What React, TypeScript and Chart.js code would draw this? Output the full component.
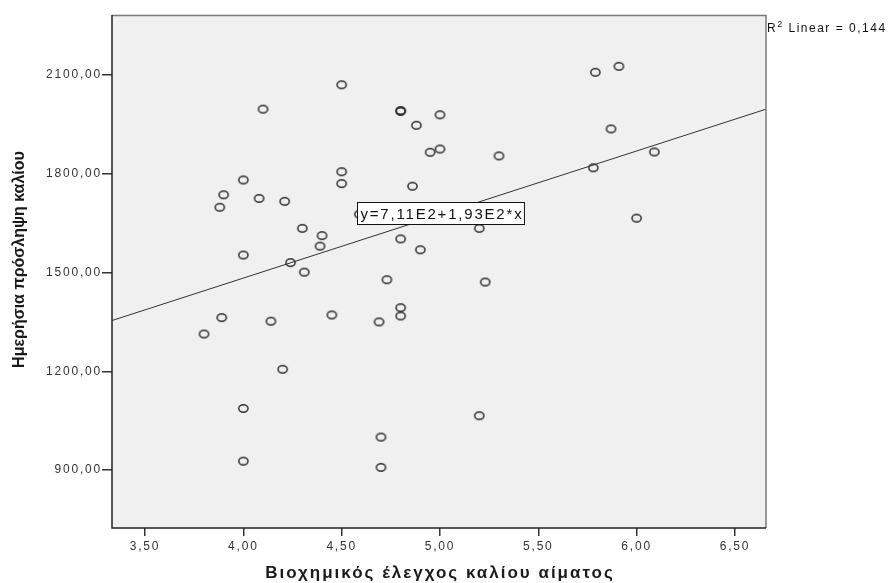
import React, { useEffect, useRef } from 'react';
import { Chart, registerables } from 'chart.js';

Chart.register(...registerables);

// Blood potassium (x) and daily potassium intake (y)
const potassiumBlood = [
  4.50, 4.10, 4.80, 4.80, 4.88, 5.00, 4.95, 5.00, 4.00, 3.90,
  3.88, 4.08, 4.21, 4.50, 4.50, 4.86, 4.59, 4.30, 4.40, 4.39,
  4.80, 4.90, 4.00, 5.30, 5.79, 5.91, 5.87, 5.78, 6.09, 6.00,
  5.20, 4.24, 4.31, 4.73, 3.89, 3.80, 4.14, 4.45, 4.69, 4.80,
  4.80, 4.20, 4.00, 4.70, 4.00, 4.70, 5.23, 5.20,
];
const potassiumIntake = [
  2070, 1996, 1992, 1989, 1947, 1979, 1865, 1875, 1781, 1736,
  1698, 1725, 1716, 1806, 1770, 1762, 1677, 1634, 1612, 1580,
  1602, 1569, 1553, 1854, 2108, 2126, 1936, 1818, 1866, 1665,
  1634, 1530, 1501, 1478, 1363, 1313, 1352, 1371, 1350, 1393,
  1368, 1206, 1087, 1000, 927, 908, 1471, 1065,
];

const xTicks = [3.5, 4.0, 4.5, 5.0, 5.5, 6.0, 6.5];
const yTicks = [900, 1200, 1500, 1800, 2100];
const xRange = [3.332, 6.658];
const yRange = [724, 2282];

// Fit line: y = 7,11E2 + 1,93E2 * x
const intercept = 711;
const slope = 193;
const rSquared = 0.144;

const xTitle = 'Βιοχημικός έλεγχος καλίου αίματος';
const yTitle = 'Ημερήσια πρόσληψη καλίου';
const equationLabel = 'y=7,11E2+1,93E2*x';
const equationAnchor = { x: 4.578, y: 1714 };

const FONT = "'Liberation Sans', Arial, Helvetica, sans-serif";
const fmt = (v: number, d: number) => v.toFixed(d).replace('.', ',');

function makeMarker(): HTMLCanvasElement {
  const c = document.createElement('canvas');
  c.width = 13;
  c.height = 11;
  const g = c.getContext('2d')!;
  g.strokeStyle = '#2e2e2e';
  g.lineWidth = 1.5;
  g.beginPath();
  g.ellipse(6.5, 5.5, 4.6, 3.7, 0, 0, Math.PI * 2);
  g.stroke();
  return c;
}

const decorPlugin = {
  id: 'decor',
  beforeDraw(chart: any) {
    const ctx = chart.ctx as CanvasRenderingContext2D;
    (ctx as any).letterSpacing = '1.8px';
    const { left, top, right, bottom } = chart.chartArea;
    ctx.save();
    ctx.fillStyle = '#ffffff';
    ctx.fillRect(0, 0, chart.width, chart.height);
    ctx.fillStyle = '#f0f0f0';
    ctx.fillRect(left, top, right - left, bottom - top);
    ctx.restore();
  },
  afterDatasetsDraw(chart: any) {
    const ctx = chart.ctx as CanvasRenderingContext2D;
    const { left, top, right, bottom } = chart.chartArea;
    const xs = chart.scales.x;
    const ys = chart.scales.y;
    ctx.save();
    // frame
    ctx.lineWidth = 1.5;
    ctx.strokeStyle = '#7a7a7a';
    ctx.beginPath();
    ctx.moveTo(left, top + 0.5);
    ctx.lineTo(right, top + 0.5);
    ctx.lineTo(right, bottom);
    ctx.stroke();
    ctx.strokeStyle = '#222';
    ctx.beginPath();
    ctx.moveTo(left, top);
    ctx.lineTo(left, bottom);
    ctx.lineTo(right, bottom);
    ctx.stroke();

    // equation label
    (ctx as any).letterSpacing = '1.8px';
    ctx.font = `15px ${FONT}`;
    const w = ctx.measureText(equationLabel).width;
    const bx = Math.round(xs.getPixelForValue(equationAnchor.x)) + 0.5;
    const by = Math.round(ys.getPixelForValue(equationAnchor.y)) + 0.5;
    const bw = w + 4;
    const bh = 22;
    ctx.fillStyle = '#ffffff';
    ctx.fillRect(bx, by, bw, bh);
    ctx.strokeStyle = '#111';
    ctx.lineWidth = 1;
    ctx.strokeRect(bx, by, bw, bh);
    ctx.fillStyle = '#111';
    ctx.textBaseline = 'middle';
    ctx.textAlign = 'left';
    ctx.fillText(equationLabel, bx + 3, by + bh / 2 + 1);

    // R² text
    (ctx as any).letterSpacing = '1.5px';
    const rx = right + 1;
    const ry = top + 17;
    ctx.textBaseline = 'alphabetic';
    ctx.font = `12px ${FONT}`;
    ctx.fillText('R', rx, ry);
    let cx = rx + ctx.measureText('R').width;
    ctx.font = `9px ${FONT}`;
    ctx.fillText('2', cx, ry - 5);
    cx += ctx.measureText('2').width;
    ctx.font = `12px ${FONT}`;
    ctx.fillText(' Linear = ' + fmt(rSquared, 3), cx, ry);

    // axis titles
    ctx.fillStyle = '#1a1a1a';
    ctx.textAlign = 'center';
    ctx.textBaseline = 'middle';
    (ctx as any).letterSpacing = '2px';
    ctx.font = `bold 17px ${FONT}`;
    ctx.fillText(xTitle, (left + right) / 2 + 1, bottom + 45);

    (ctx as any).letterSpacing = '0px';
    ctx.font = `bold 16px ${FONT}`;
    ctx.translate(20, (top + bottom) / 2 - 12);
    ctx.rotate(-Math.PI / 2);
    ctx.fillText(yTitle, 0, 0);
    ctx.restore();
    (ctx as any).letterSpacing = '1.8px';
  },
};

export default function App() {
  const ref = useRef<HTMLCanvasElement | null>(null);

  useEffect(() => {
    if (!ref.current) return;
    const marker = makeMarker();
    const points = potassiumBlood.map((x, i) => ({ x, y: potassiumIntake[i] }));
    const fitLine = xRange.map((x) => ({ x, y: intercept + slope * x }));

    const chart = new Chart(ref.current, {
      type: 'scatter',
      data: {
        datasets: [
          {
            label: 'fit',
            data: fitLine,
            showLine: true,
            borderColor: '#333',
            borderWidth: 1,
            pointRadius: 0,
            fill: false,
          } as any,
          {
            label: 'data',
            data: points,
            pointStyle: marker as any,
            pointRadius: 5,
            borderColor: '#2e2e2e',
            backgroundColor: 'rgba(0,0,0,0)',
          },
        ],
      },
      options: {
        responsive: false,
        animation: false,
        layout: { padding: { left: 0, top: 15, right: 125, bottom: 0 } },
        plugins: {
          legend: { display: false },
          tooltip: { enabled: false },
        },
        scales: {
          x: {
            type: 'linear',
            min: xRange[0],
            max: xRange[1],
            afterBuildTicks: (s: any) => {
              s.ticks = xTicks.map((v) => ({ value: v }));
            },
            afterFit: (s: any) => {
              s.height = 55;
            },
            ticks: {
              callback: (v: any) => fmt(Number(v), 2),
              font: { family: FONT, size: 12 },
              color: '#333',
              padding: 3,
              maxRotation: 0,
              autoSkip: false,
            },
            grid: {
              display: true,
              drawOnChartArea: false,
              drawTicks: true,
              tickLength: 8,
              color: '#333',
              lineWidth: 1.5,
            },
            border: { display: false },
            title: { display: false },
          },
          y: {
            type: 'linear',
            min: yRange[0],
            max: yRange[1],
            afterBuildTicks: (s: any) => {
              s.ticks = yTicks.map((v) => ({ value: v }));
            },
            afterFit: (s: any) => {
              s.width = 112;
            },
            ticks: {
              callback: (v: any) => fmt(Number(v), 2),
              font: { family: FONT, size: 12 },
              color: '#333',
              padding: 0,
              autoSkip: false,
            },
            grid: {
              display: true,
              drawOnChartArea: false,
              drawTicks: true,
              tickLength: 10,
              color: '#333',
              lineWidth: 1.5,
            },
            border: { display: false },
            title: { display: false },
          },
        },
      },
      plugins: [decorPlugin],
    });

    return () => chart.destroy();
  }, []);

  return (
    <div style={{ position: 'absolute', left: 0, top: 0, width: 891, height: 583, background: '#fff' }}>
      <canvas ref={ref} width={891} height={583} style={{ display: 'block' }} />
    </div>
  );
}
